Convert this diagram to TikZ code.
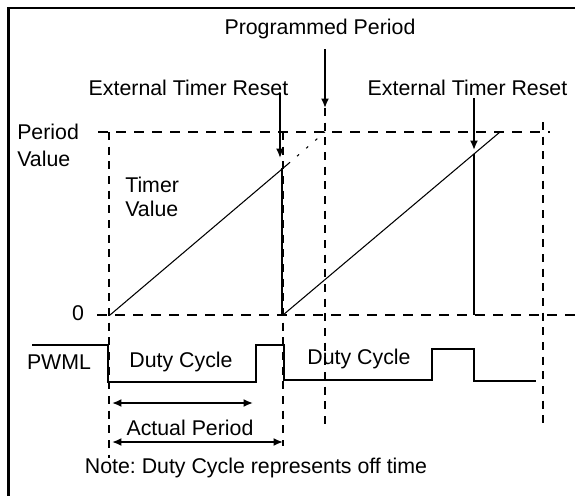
\documentclass[tikz,border=0pt]{standalone}
\usepackage{fontspec}
\setmainfont{Liberation Sans}
\usetikzlibrary{arrows.meta}
\frenchspacing

\tikzset{
  lbl/.style={inner sep=0pt, font=\fontsize{16}{18}\selectfont},
  sig/.style={line width=1.5pt},
  ramp/.style={line width=0.8pt},
  hgrid/.style={line width=1.5pt, dash pattern=on 7.5pt off 6pt},
  vgrid/.style={line width=1.5pt, dash pattern=on 6pt off 5pt},
}

\begin{document}
\begin{tikzpicture}[x=0.75pt, y=-0.75pt, >={Latex[length=7pt,width=6pt]}]
\useasboundingbox (0,0) rectangle (575,496);
% frame, only top and left edge show
\draw[line width=1.7pt] (8.5,496) -- (8.5,7.8) -- (575,7.8);
% texts
\node[lbl] (pp) at (320,29) {Programmed Period};
\node[lbl] (etrl) at (188.5,88) {External Timer Reset};
\node[lbl] (etrr) at (467.5,88) {External Timer Reset};
\node[lbl, anchor=west] (perval) at (17,132) {Period};
\node[lbl, anchor=west] (perval2) at (17,159) {Value};
\node[lbl, anchor=west] (tmr) at (125,185) {Timer};
\node[lbl, anchor=west] (tmr2) at (125,209) {Value};
\node[lbl] (zero) at (78,313) {0};
\node[lbl] (pwml) at (59,362) {PWML};
\node[lbl] (dc1) at (181,362) {Duty Cycle};
\node[lbl] (dc2) at (359,359) {Duty Cycle};
\node[lbl] (ap) at (190,428) {Actual Period};
\node[lbl] (note) at (256,468) {Note: Duty Cycle represents off time};
% grid lines
\draw[hgrid] (98,132) -- (550,132);
\draw[hgrid] (97,315) -- (575,315);
\draw[vgrid] (109,132) -- (109,458);
\draw[vgrid] (283,132) -- (283,446);
\draw[vgrid] (325,108) -- (325,428);
\draw[vgrid] (543,122) -- (543,424);
% timer ramps
\coordinate (r1a) at (110,315);
\coordinate (r1b) at (288,164);
\coordinate (r1c) at (325,132);
\coordinate (r2a) at (283,315);
\coordinate (r2b) at (500,132);
\draw[ramp] (r1a) -- (r1b);
\draw[ramp, dash pattern=on 2pt off 7pt] (r1b) -- (r1c);
\draw[sig] (282,168) -- (282,315);
\draw[ramp] (r2a) -- (r2b);
\draw[sig] (474,154) -- (474,315);
% arrows
\coordinate (ppt) at (325,49);
\coordinate (pph) at (325,108);
\coordinate (etlt) at (280,93);
\coordinate (etlh) at (280,158);
\coordinate (etrt) at (474,98);
\coordinate (etrh) at (474,150);
\draw[sig,->] (ppt) -- (pph);
\draw[sig,->] (etlt) -- (etlh);
\draw[sig,->] (etrt) -- (etrh);
% PWML output
\draw[sig] (32,345) -- (108,345) -- (108,382) -- (256,382) -- (256,345)
  -- (284,345) -- (284,380) -- (432,380) -- (432,349) -- (474,349)
  -- (474,381) -- (536,381);
% periods
\coordinate (dca) at (112,403);
\coordinate (dcb) at (253,403);
\coordinate (apa) at (112,442);
\coordinate (apb) at (283,442);
\draw[sig,<->] (dca) -- (dcb);
\draw[sig,<->] (apa) -- (apb);
\end{tikzpicture}
\end{document}
